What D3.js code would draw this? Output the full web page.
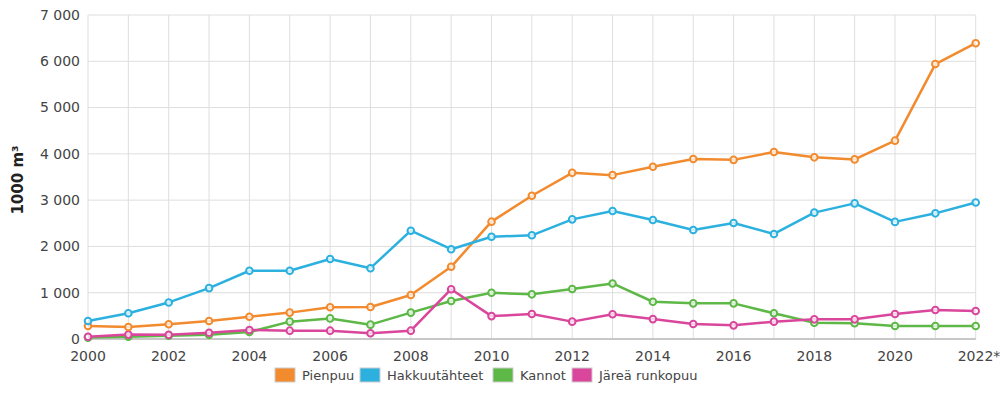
<!DOCTYPE html>
<html><head><meta charset="utf-8">
<script src="https://cdn.jsdelivr.net/npm/d3@7"></script>
<style>body{margin:0;background:#fff;}svg{display:block;font-family:"DejaVu Sans",Verdana,sans-serif;}</style>
</head><body><svg id="c" width="1000" height="396"></svg>
<script>
const years = d3.range(2000, 2023);
const yearLabels = ["2000","2002","2004","2006","2008","2010","2012","2014","2016","2018","2020","2022*"];
const seriesNames = ["Pienpuu","Hakkuutähteet","Kannot","Järeä runkopuu"];
const seriesColors = ["#f28a2e","#2cb1df","#5db847","#d9469b"];
const pienpuu = [280,260,320,390,480,570,685,690,950,1560,2535,3095,3590,3540,3720,3890,3870,4040,3925,3880,4285,5940,6390];
const hakkuutahteet = [390,555,790,1100,1475,1475,1730,1530,2340,1940,2210,2240,2585,2765,2570,2355,2505,2270,2730,2930,2530,2715,2950];
const kannot = [30,50,70,90,150,375,445,310,570,820,1000,965,1080,1200,805,770,770,555,350,340,280,280,280];
const jarea = [50,95,90,135,195,180,180,125,180,1075,495,540,375,535,430,325,295,375,425,425,540,625,605];
const yTicks = [0,1000,2000,3000,4000,5000,6000,7000];
const allSeries = [pienpuu, hakkuutahteet, kannot, jarea];

const svg = d3.select("#c");
const x = d3.scaleLinear().domain([2000,2022]).range([88,975.7]);
const y = d3.scaleLinear().domain([0,7000]).range([339,15]);
const fmt = v => d3.format(",")(v).replace(/,/g," ");

// gridlines
svg.append("g").selectAll("line").data(years).join("line")
  .attr("x1",d=>x(d)).attr("x2",d=>x(d)).attr("y1",y(7000)).attr("y2",y(0))
  .attr("stroke","#dedede").attr("stroke-width",1);
svg.append("g").selectAll("line").data(yTicks).join("line")
  .attr("x1",x(2000)).attr("x2",x(2022)).attr("y1",d=>y(d)).attr("y2",d=>y(d))
  .attr("stroke","#dedede").attr("stroke-width",1);
svg.append("line").attr("x1",x(2000)).attr("x2",x(2022)).attr("y1",y(0)).attr("y2",y(0))
  .attr("stroke","#bbb").attr("stroke-width",1.5);

// y tick labels
svg.append("g").selectAll("text").data(yTicks).join("text")
  .attr("x",80).attr("y",d=>y(d)).attr("dy","0.35em").attr("text-anchor","end")
  .attr("font-size",14).attr("fill","#444").text(fmt);
// x tick labels
const xTickYears = d3.range(2000,2023,2);
svg.append("g").selectAll("text").data(xTickYears).join("text")
  .attr("x",d=>x(d)).attr("y",361).attr("text-anchor",(d,i)=>i===xTickYears.length-1?"start":"middle")
  .attr("dx",(d,i)=>i===xTickYears.length-1?-18:0)
  .attr("font-size",14).attr("fill","#444").text((d,i)=>yearLabels[i]);

// y axis title
svg.append("text").attr("transform","translate(23,180) rotate(-90)").attr("text-anchor","middle")
  .attr("font-size",15).attr("font-weight","bold").attr("fill","#222").text("1000 m³");

// lines
const line = d3.line().x((d,i)=>x(years[i])).y(d=>y(d));
const order = [2,3,0,1];
order.forEach(k=>{
  const data = allSeries[k];
  svg.append("path").datum(data).attr("d",line).attr("fill","none")
    .attr("stroke",seriesColors[k]).attr("stroke-width",2.5).attr("stroke-linejoin","round");
  svg.append("g").selectAll("circle").data(data).join("circle")
    .attr("cx",(d,i)=>x(years[i])).attr("cy",d=>y(d)).attr("r",3.3)
    .attr("fill","#fbe9f0").attr("fill","#fff").attr("fill-opacity",0.75)
    .attr("stroke",seriesColors[k]).attr("stroke-width",2);
});

// legend
const legX = [275,360,493,572];
const lg = svg.append("g");
seriesNames.forEach((n,i)=>{
  lg.append("rect").attr("x",legX[i]).attr("y",368).attr("width",20).attr("height",14)
    .attr("fill",seriesColors[i]).attr("stroke","#ccc").attr("stroke-width",1);
  lg.append("text").attr("x",legX[i]+27).attr("y",380).attr("font-size",13).attr("fill","#444").text(n);
});
</script></body></html>
